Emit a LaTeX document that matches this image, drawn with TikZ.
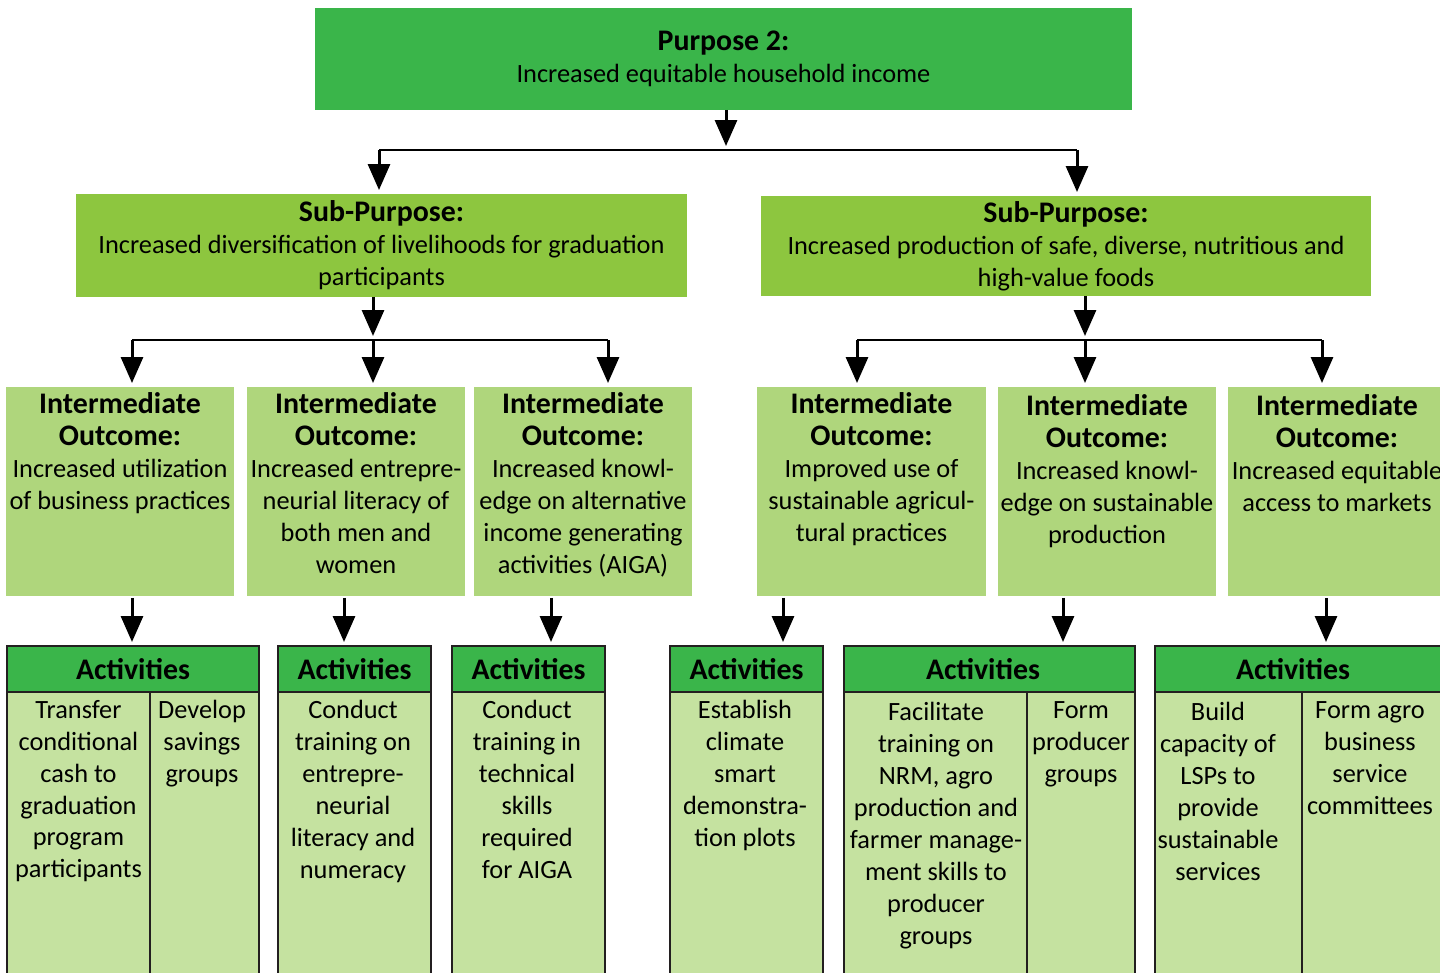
\documentclass[tikz,border=0pt]{standalone}
\usepackage{fontspec}
\setmainfont{Carlito}
\usetikzlibrary{arrows.meta,positioning}
\definecolor{purposegreen}{HTML}{3AB54A}
\definecolor{subgreen}{HTML}{8DC63F}
\definecolor{iogreen}{HTML}{AFD67C}
\definecolor{actgreen}{HTML}{C5E2A0}
\definecolor{edgegray}{HTML}{231F20}
\newcommand{\hd}[1]{{\fontsize{17}{18.2}\selectfont\bfseries #1}}
\tikzset{
  every node/.style={inner sep=0pt, outer sep=0pt},
  main/.style={font=\fontsize{15}{18.2}\selectfont, align=center},
  purposebox/.style={main, fill=purposegreen},
  subbox/.style={main, fill=subgreen},
  iobox/.style={fill=iogreen, minimum width=4.36cm, minimum height=4.18cm},
  iotext/.style={main},
  acthead/.style={fill=purposegreen, draw=edgegray, line width=0.03cm,
    minimum width=3.06cm, minimum height=0.92cm, font=\fontsize{17}{18.2}\selectfont\bfseries},
  headtext/.style={font=\fontsize{17}{18.2}\selectfont\bfseries},
  actbody/.style={fill=actgreen, draw=edgegray, line width=0.03cm,
    minimum width=3.06cm, minimum height=6cm},
  acttext/.style={main, anchor=north},
  divider/.style={draw=edgegray, line width=0.03cm},
  arr/.style={line width=0.06cm, -{Triangle[width=0.44cm,length=0.52cm]}, shorten >=0.08cm},
  link/.style={line width=0.04cm},
}
\begin{document}
\begin{tikzpicture}[x=0.02cm,y=-0.02cm]
\useasboundingbox (0,0) rectangle (1440,973);
\clip (0,0) rectangle (1440,973);

% top level
\node[purposebox, minimum width=16.34cm, minimum height=2.04cm] (purpose) at (723.5,59)
  {\hd{Purpose 2:}\\Increased equitable household income};

% sub-purposes
\node[subbox, minimum width=12.22cm, minimum height=2.06cm] (subL) at (381.5,245.5)
  {\hd{Sub-Purpose:}\\Increased diversification of livelihoods for graduation\\participants};
\node[subbox, minimum width=12.2cm, minimum height=2cm] (subR) at (1066,246)
  {\hd{Sub-Purpose:}\\Increased production of safe, diverse, nutritious and\\high-value foods};

% intermediate outcomes
\node[iobox, minimum width=4.56cm] (io1) at (120,491.5) {};
\node[iobox] (io2) at (356,491.5) {};
\node[iobox] (io3) at (583,491.5) {};
\node[iobox, minimum width=4.58cm] (io4) at (871.5,491.5) {};
\node[iobox] (io5) at (1107,491.5) {};
\node[iobox] (io6) at (1337,491.5) {};

\node[iotext, below=0.12cm of io1.north] (io1t)
  {\hd{Intermediate}\\\hd{Outcome:}\\Increased utilization\\of business practices};
\node[iotext, below=0.12cm of io2.north] (io2t)
  {\hd{Intermediate}\\\hd{Outcome:}\\Increased entrepre-\\neurial literacy of\\both men and\\women};
\node[iotext, below=0.12cm of io3.north] (io3t)
  {\hd{Intermediate}\\\hd{Outcome:}\\Increased knowl-\\edge on alternative\\income generating\\activities (AIGA)};
\node[iotext, below=0.12cm of io4.north] (io4t)
  {\hd{Intermediate}\\\hd{Outcome:}\\Improved use of\\sustainable agricul-\\tural practices};
\node[iotext, below=0.16cm of io5.north] (io5t)
  {\hd{Intermediate}\\\hd{Outcome:}\\Increased knowl-\\edge on sustainable\\production};
\node[iotext, below=0.16cm of io6.north] (io6t)
  {\hd{Intermediate}\\\hd{Outcome:}\\Increased equitable\\access to markets};

% activities
\node[acthead, minimum width=5.04cm] (a1h) at (133,669) {Activities};
\node[actbody, minimum width=5.04cm, below=0pt of a1h] (a1b) {};
\node[acthead] (a2h) at (354.5,669) {Activities};
\node[actbody, below=0pt of a2h] (a2b) {};
\node[acthead] (a3h) at (528.5,669) {Activities};
\node[actbody, below=0pt of a3h] (a3b) {};
\node[acthead] (a4h) at (746.5,669) {Activities};
\node[actbody, below=0pt of a4h] (a4b) {};
\node[acthead, minimum width=5.82cm] (a5h) at (989.5,669) {};
\node[headtext] (a5ht) at (983,669) {Activities};
\node[actbody, minimum width=5.82cm, below=0pt of a5h] (a5b) {};
\node[acthead, minimum width=5.9cm] (a6h) at (1302.5,669) {};
\node[headtext] (a6ht) at (1293,669) {Activities};
\node[actbody, minimum width=5.9cm, below=0pt of a6h] (a6b) {};

\coordinate (d1) at (150,692);
\coordinate (d5) at (1027,692);
\coordinate (d6) at (1302,692);
\draw[divider] (d1) -- (d1 |- a1b.south);
\draw[divider] (d5) -- (d5 |- a5b.south);
\draw[divider] (d6) -- (d6 |- a6b.south);

\node[acttext] (a1l) at (78.5,700)
  {Transfer\\conditional\\cash to\\graduation\\program\\participants};
\node[acttext] (a1r) at (202,700) {Develop\\savings\\groups};
\node[acttext] (a2t) at (353,700)
  {Conduct\\training on\\entrepre-\\neurial\\literacy and\\numeracy};
\node[acttext] (a3t) at (527,700)
  {Conduct\\training in\\technical\\skills\\required\\for AIGA};
\node[acttext] (a4t) at (745,700)
  {Establish\\climate\\smart\\demonstra-\\tion plots};
\node[acttext] (a5l) at (936,702)
  {Facilitate\\training on\\NRM, agro\\production and\\farmer manage-\\ment skills to\\producer\\groups};
\node[acttext] (a5r) at (1081,702) {Form\\producer\\groups};
\node[acttext] (a6l) at (1218,702)
  {Build\\capacity of\\LSPs to\\provide\\sustainable\\services};
\node[acttext] (a6r) at (1370,702) {Form agro\\business\\service\\committees};

% purpose -> sub-purposes
\coordinate (pj) at (726,150);
\coordinate (pl) at (379,150);
\coordinate (pr) at (1077,150);
\draw[arr] (purpose.south -| pj) -- (pj);
\draw[link] (pl) -- (pr);
\draw[arr] (pl) -- (pl |- subL.north);
\draw[arr] (pr) -- (pr |- subR.north);

% sub-purposes -> intermediate outcomes
\coordinate (lj) at (373,340);
\coordinate (l1) at (132,340);
\coordinate (l3) at (608,340);
\draw[arr] (subL.south -| lj) -- (lj);
\draw[link] (l1) -- (l3);
\draw[arr] (l1) -- (l1 |- io1.north);
\draw[arr] (lj) -- (lj |- io2.north);
\draw[arr] (l3) -- (l3 |- io3.north);

\coordinate (rj) at (1085,340);
\coordinate (r1) at (857,340);
\coordinate (r3) at (1322,340);
\draw[arr] (subR.south -| rj) -- (rj);
\draw[link] (r1) -- (r3);
\draw[arr] (r1) -- (r1 |- io4.north);
\draw[arr] (rj) -- (rj |- io5.north);
\draw[arr] (r3) -- (r3 |- io6.north);

% intermediate outcomes -> activities
\coordinate (c1) at (132,646);
\coordinate (c2) at (344,646);
\coordinate (c3) at (551,646);
\coordinate (c4) at (783,646);
\coordinate (c5) at (1063,646);
\coordinate (c6) at (1326,646);
\draw[arr, shorten <=0.04cm] (c1 |- io1.south) -- (c1);
\draw[arr, shorten <=0.04cm] (c2 |- io2.south) -- (c2);
\draw[arr, shorten <=0.04cm] (c3 |- io3.south) -- (c3);
\draw[arr, shorten <=0.04cm] (c4 |- io4.south) -- (c4);
\draw[arr, shorten <=0.04cm] (c5 |- io5.south) -- (c5);
\draw[arr, shorten <=0.04cm] (c6 |- io6.south) -- (c6);
\end{tikzpicture}
\end{document}
